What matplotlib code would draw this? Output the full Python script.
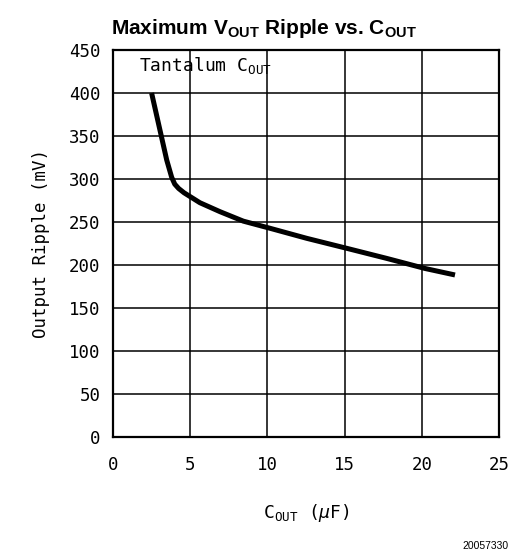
import matplotlib
matplotlib.use('Agg')
import matplotlib.pyplot as plt

plt.rcParams['font.family'] = ['DejaVu Sans Mono', 'DejaVu Sans']
plt.rcParams['mathtext.fontset'] = 'custom'
plt.rcParams['mathtext.rm'] = 'DejaVu Sans Mono'
plt.rcParams['mathtext.it'] = 'DejaVu Sans Mono:italic'
plt.rcParams['mathtext.bf'] = 'Liberation Sans:bold'

# curve
cout_uf = [2.5, 2.6, 3.04, 3.48, 3.8, 4.0, 4.25, 4.6, 5.63, 6.93, 8.44, 10.17, 12.55, 15.14, 17.7, 20.2, 22.15]
ripple_mv = [400, 392, 357, 322, 302, 294, 289, 284, 272.4, 262, 251, 242.7, 231, 219.4, 207.8, 196, 188.4]

x_ticks = [0, 5, 10, 15, 20, 25]
y_ticks = [0, 50, 100, 150, 200, 250, 300, 350, 400, 450]

fig = plt.figure(figsize=(5.27, 5.55), dpi=100)
ax = fig.add_axes([113/527, 1 - 437/555, 386/527, 387/555])

ax.plot(cout_uf, ripple_mv, color='black', lw=3.6, solid_capstyle='butt',
        solid_joinstyle='round', zorder=3)

ax.set_xlim(0, 25)
ax.set_ylim(0, 450)
ax.set_xticks(x_ticks)
ax.set_yticks(y_ticks)
ax.tick_params(length=0, labelsize=12.5)
ax.tick_params(axis='x', pad=14)
ax.tick_params(axis='y', pad=9)
ax.grid(True, color='black', lw=1.1)
for s in ax.spines.values():
    s.set_linewidth(1.6)

ax.text(1.7, 432, r'Tantalum C$_{\mathregular{OUT}}$', fontsize=13, va='center', ha='left')
ax.set_xlabel(r'C$_{\mathregular{OUT}}$ ($\mu$F)', fontsize=13, labelpad=20)
ax.set_ylabel('Output Ripple (mV)', fontsize=12.5, labelpad=14)

fig.text(264/527, 1 - 28/555, r'Maximum V$_{\mathbf{OUT}}$ Ripple vs. C$_{\mathbf{OUT}}$',
         ha='center', va='center', fontsize=15, fontweight='bold', family='Liberation Sans')
fig.text(509/527, 1 - 546/555, '20057330', ha='right', va='center', fontsize=7.5, family='Liberation Sans')

fig.savefig('out.png', dpi=100, facecolor='white')
plt.close()
